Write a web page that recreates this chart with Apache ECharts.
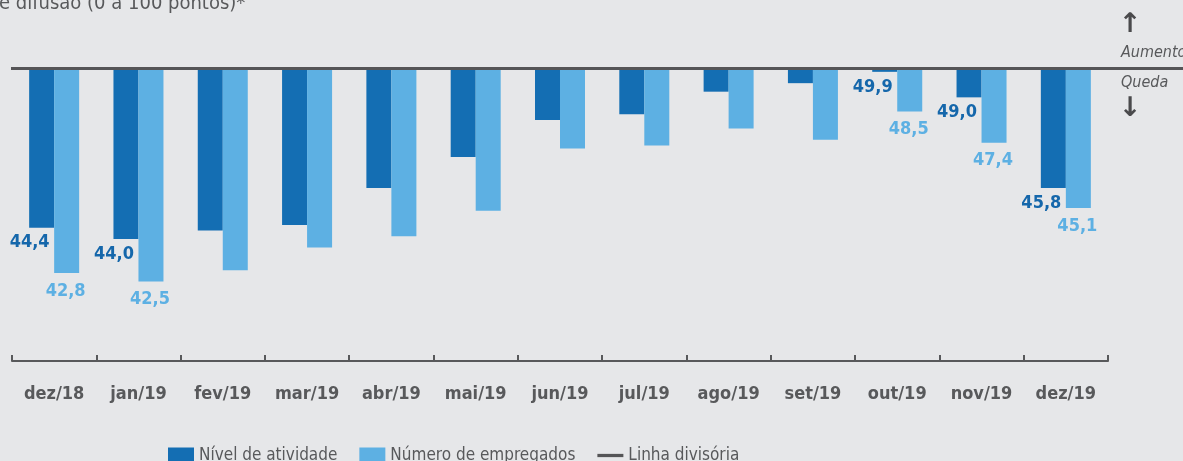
<!DOCTYPE html>
<html><head><meta charset="utf-8">
<script src="https://cdn.jsdelivr.net/npm/echarts@6/dist/echarts.min.js"></script>
<style>html,body{margin:0;padding:0;background:#e6e7e9;overflow:hidden}#c{width:1183px;height:461px;}</style>
</head><body><div id="c"></div>
<script>
const categories = ['dez/18','jan/19','fev/19','mar/19','abr/19','mai/19','jun/19','jul/19','ago/19','set/19','out/19','nov/19','dez/19'];
const nivelAtividade = [44.4,44.0,44.3,44.5,45.8,46.9,48.2,48.4,49.2,49.5,49.9,49.0,45.8];
const numeroEmpregados = [42.8,42.5,42.9,43.7,44.1,45.0,47.2,47.3,47.9,47.5,48.5,47.4,45.1];
const labeledIdx = [0,1,10,11,12];
const divisoria = 50;
const axisBottomValue = 39.7;

const FONT = "'Liberation Sans Narrow','DejaVu Sans Condensed','Roboto',sans-serif";
const GRAY = '#58595b';
const DARK = '#146eb3';
const LIGHT = '#5db0e3';
const fmt = v => v.toFixed(1).replace('.', ',');

function build(arr) {
  return arr.map((v, i) => ({ value: +(v - divisoria).toFixed(2), label: { show: labeledIdx.includes(i) } }));
}

const chart = echarts.init(document.getElementById('c'), null, { renderer: 'canvas' });
const option = {
  backgroundColor: '#e6e7e9',
  animation: false,
  textStyle: { fontFamily: FONT },
  grid: { left: 12, right: 75, top: 69, bottom: 100, containLabel: false },
  xAxis: {
    type: 'category',
    data: categories,
    axisLine: { onZero: false, lineStyle: { color: GRAY, width: 2 } },
    axisTick: { show: true, inside: true, length: 6, lineStyle: { color: GRAY, width: 2 } },
    axisLabel: { color: GRAY, fontWeight: 'bold', fontSize: 18, margin: 24, fontFamily: FONT }
  },
  yAxis: {
    type: 'value', min: axisBottomValue - divisoria, max: 0, show: false,
    splitLine: { show: false }
  },
  legend: {
    left: 168, top: 447, padding: 0, itemWidth: 26, itemHeight: 16, itemGap: 22,
    textStyle: { color: GRAY, fontSize: 17, fontFamily: FONT },
    data: [
      { name: 'Nível de atividade', icon: 'rect' },
      { name: 'Número de empregados', icon: 'rect' },
      { name: 'Linha divisória', icon: 'path://M0,0H32V4H0Z' }
    ]
  },
  series: [
    {
      name: 'Nível de atividade', type: 'bar', barWidth: 25, barGap: '0%',
      itemStyle: { color: DARK },
      label: { show: false, position: 'bottom', distance: 6, offset: [-12, 0], color: '#1567ab',
        fontWeight: 'bold', fontSize: 18, fontFamily: FONT,
        formatter: p => fmt(nivelAtividade[p.dataIndex]) },
      data: build(nivelAtividade)
    },
    {
      name: 'Número de empregados', type: 'bar', barWidth: 25, barGap: '0%',
      itemStyle: { color: LIGHT },
      label: { show: false, position: 'bottom', distance: 9, offset: [-1, 0], color: LIGHT,
        fontWeight: 'bold', fontSize: 18, fontFamily: FONT,
        formatter: p => fmt(numeroEmpregados[p.dataIndex]) },
      data: build(numeroEmpregados)
    },
    {
      name: 'Linha divisória', type: 'line', symbol: 'none', data: [],
      lineStyle: { color: '#555557', width: 4 }, itemStyle: { color: '#555557' }
    }
  ]
};
chart.setOption(option);

const yLine = chart.convertToPixel({ yAxisIndex: 0 }, 0) - 0.5;
chart.setOption({
  graphic: [
    { type: 'line', z: 100, shape: { x1: 11, y1: yLine, x2: 1183, y2: yLine }, style: { stroke: '#555557', lineWidth: 3 } },
    { type: 'text', left: -1, top: -6, style: { text: 'e difusão (0 a 100 pontos)*', fill: GRAY, font: "20px " + FONT } },
    { type: 'text', x: 1121, y: yLine - 8, style: { text: 'Aumento', fill: GRAY, font: "italic 16px " + FONT, textVerticalAlign: 'bottom' } },
    { type: 'text', x: 1121, y: yLine + 6, style: { text: 'Queda', fill: GRAY, font: "italic 16px " + FONT, textVerticalAlign: 'top' } },
    { type: 'text', x: 1130, y: yLine - 30, style: { text: '↑', fill: '#4a4a4c', font: "bold 27px 'DejaVu Sans'", textAlign: 'center', textVerticalAlign: 'bottom' } },
    { type: 'text', x: 1130, y: yLine + 27, style: { text: '↓', fill: '#4a4a4c', font: "bold 27px 'DejaVu Sans'", textAlign: 'center', textVerticalAlign: 'top' } }
  ]
});
</script></body></html>
